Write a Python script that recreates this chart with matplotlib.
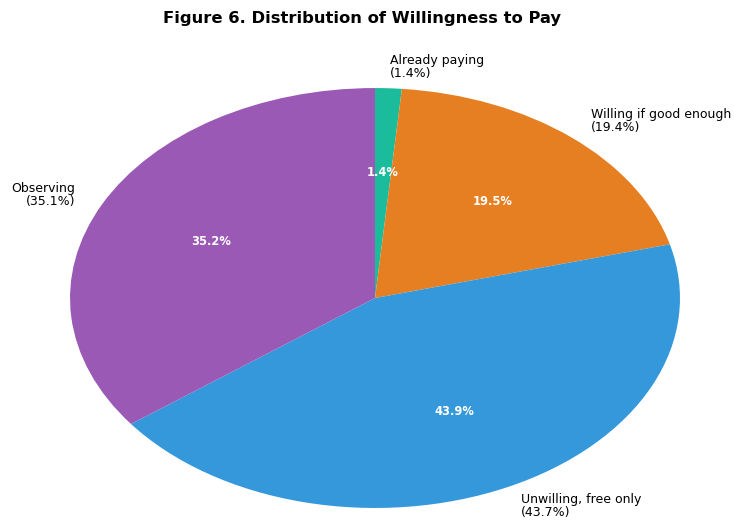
import matplotlib.pyplot as plt

# willingness to pay categories and survey shares (%)
categorias = ['Already paying', 'Willing if good enough', 'Unwilling, free only', 'Observing']
valores = [1.4, 19.4, 43.7, 35.1]
cores = ['#1abc9c', '#e67e22', '#3498db', '#9b59b6']

rotulos = [f'{c}\n({v}%)' for c, v in zip(categorias, valores)]

fig = plt.figure(figsize=(7.34, 5.21), dpi=100)
ax = fig.add_axes([0.0954, 0.025, 0.831, 0.806])

fatias, textos, autotextos = ax.pie(valores, labels=rotulos, colors=cores,
                                    autopct='%1.1f%%', startangle=90, counterclock=False,
                                    textprops={'fontsize': 9})
for t in textos:
    t.set_linespacing(1.0)
for t in autotextos:
    t.set_color('white')
    t.set_fontweight('bold')
    t.set_fontsize(8.3)

# deixa a pizza esticada na horizontal
ax.set_aspect('auto')
ax.set_xlim(-1, 1)
ax.set_ylim(-1, 1)

fig.suptitle('Figure 6. Distribution of Willingness to Pay', fontsize=11.8, fontweight='bold',
             x=0.493, y=0.979)

plt.savefig('out.png', dpi=100)
